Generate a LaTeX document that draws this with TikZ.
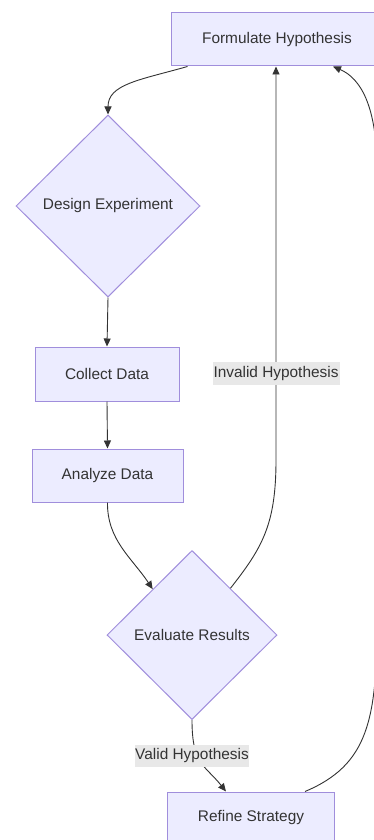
\documentclass[tikz,border=0pt]{standalone}
\usepackage{fontspec}
\setmainfont{Liberation Sans}
\usetikzlibrary{shapes.geometric,arrows.meta,calc}
\definecolor{nodefill}{HTML}{ECECFF}
\definecolor{nodeline}{HTML}{A08EDC}
\definecolor{edgecol}{HTML}{333333}
\definecolor{txtcol}{HTML}{333333}
\definecolor{lblbg}{HTML}{E8E8E8}
\tikzset{
  boxnode/.style={draw=nodeline, fill=nodefill, line width=1pt, text=txtcol, inner sep=0pt, font=\fontsize{15.4}{18}\selectfont},
  decision/.style={diamond, draw=nodeline, fill=nodefill, line width=1pt, text=txtcol, inner sep=0pt, font=\fontsize{15.4}{18}\selectfont},
  edgelabel/.style={fill=lblbg, text=txtcol, inner sep=0pt, font=\fontsize{15.4}{18}\selectfont},
  flow/.style={draw=edgecol, line width=0.9pt, -{Triangle[length=8pt,width=7pt]}}
}
\begin{document}
\begin{tikzpicture}[x=1pt,y=-1pt]
\useasboundingbox (0,0) rectangle (374,840);
\clip (0,0) rectangle (374,840);
\fill[white] (0,0) rectangle (374,840);
% nodes
\node[boxnode, minimum width=212pt, minimum height=53pt] (fh) at (277,39.5) {Formulate Hypothesis};
\node[decision, minimum width=184pt, minimum height=182pt] (de) at (108,206) {Design Experiment};
\node[boxnode, minimum width=144pt, minimum height=54pt] (cd) at (107,374) {Collect Data};
\node[boxnode, minimum width=151pt, minimum height=53pt] (ad) at (107.5,475.5) {Analyze Data};
\node[decision, minimum width=170pt, minimum height=169pt] (er) at (192,635) {Evaluate Results};
\node[boxnode, minimum width=167pt, minimum height=52pt] (rs) at (251,818) {Refine Strategy};
% edges
\draw[flow] ([xshift=17pt]fh.south west) .. controls (140,80) and (108,84) .. (de.north);
\draw[flow] (de.south) -- (cd.north);
\draw[flow] (cd.south) -- (ad.north);
\draw[flow] (ad.south) .. controls (107,540) and (132,558) .. ($(er.north)!0.46!(er.west)$);
\coordinate (invtop) at (fh.south -| 276,0);
\draw[flow] ($(er.north)!0.45!(er.east)$) .. controls (262,548) and (276,525) .. (276,460) -- (invtop);
\draw[flow] (er.south) .. controls (192,765) and (205,765) .. ([xshift=-25pt]rs.north);
\coordinate (refin) at ([xshift=56pt]fh.south);
\draw[flow] ([xshift=54pt]rs.north) .. controls (368,765) and (377,720) .. (377,620) -- (377,170) .. controls (377,105) and (360,78) .. (refin);
% edge labels
\node[edgelabel, minimum width=127pt, minimum height=23pt] (inv) at (276,373.5) {Invalid Hypothesis};
\node[edgelabel, minimum width=114pt, minimum height=22pt] (val) at (192,756) {Valid Hypothesis};
\end{tikzpicture}
\end{document}
